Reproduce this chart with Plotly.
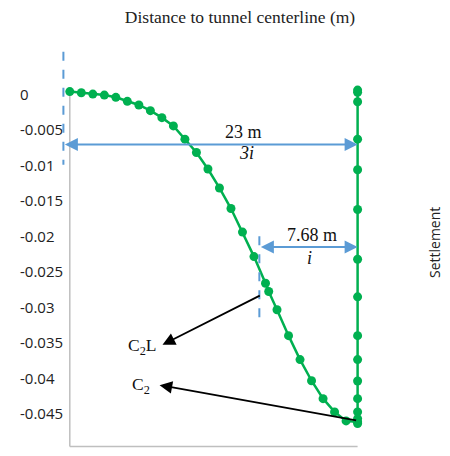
import plotly.graph_objects as go

# ---- data ----
curve_x = [-22.5, -21.6, -20.7, -19.8, -18.9, -18.0, -17.1, -16.2, -15.3, -14.4,
           -13.5, -12.6, -11.7, -10.8, -9.9, -9.0, -8.1, -7.2, -6.95, -6.3,
           -5.4, -4.5, -3.6, -2.7, -1.8, -0.9, 0.0]
curve_y = [0.0, -0.00017, -0.00035, -0.00049, -0.00081, -0.00137, -0.00189, -0.00269,
           -0.00367, -0.00484, -0.0067, -0.00858, -0.01091, -0.01358, -0.01648, -0.0198,
           -0.02325, -0.027, -0.02816, -0.03074, -0.03439, -0.03776, -0.04074, -0.04327,
           -0.04513, -0.0464, -0.04654]

center_x = [0.0] * 15
center_y = [0.00021, -0.00011, -0.00143, -0.0067, -0.01101, -0.01662, -0.02363,
            -0.02892, -0.03439, -0.03776, -0.04078, -0.04327, -0.04513, -0.04607, -0.04677]

y_tickvals = [0, -0.005, -0.01, -0.015, -0.02, -0.025, -0.03, -0.035, -0.04, -0.045, -0.05]
y_ticktext = ["0", "-0.005", "-0.01", "-0.015", "-0.02", "-0.025", "-0.03", "-0.035",
              "-0.04", "-0.045", "-0.05"]

width_3i = 23.0
width_i = 7.68
label_3i = "23 m"
label_i = "7.68 m"
c2l_tail = (-7.53, -0.02865)
c2l_head = (-15.25, -0.03567)
c2_tail = (0.0, -0.04635)
c2_head = (-15.48, -0.04136)
arrow_3i_y = -0.00744
arrow_i_y = -0.0219

GREEN = "#00B050"
BLUE = "#5B9BD5"
GRAY = "#BFBFBF"
SERIF = "Liberation Serif, Times New Roman, serif"
SANS = "Open Sans, sans-serif"

Y_RANGE = [-0.0505, 0.006]

fig = go.Figure()

fig.add_trace(go.Scatter(x=curve_x, y=curve_y, mode="lines+markers",
                         line=dict(color=GREEN, width=2.5),
                         marker=dict(color=GREEN, size=9),
                         cliponaxis=False, showlegend=False))
fig.add_trace(go.Scatter(x=center_x, y=center_y, mode="lines+markers",
                         line=dict(color=GREEN, width=2.5),
                         marker=dict(color=GREEN, size=9),
                         cliponaxis=False, showlegend=False))
fig.add_trace(go.Scatter(x=[None], y=[None], yaxis="y2", showlegend=False))

shapes = [
    # axis lines
    dict(type="line", xref="x", yref="y", x0=curve_x[0], x1=curve_x[0], y0=-0.05, y1=0,
         line=dict(color=GRAY, width=1.5), layer="below"),
    dict(type="line", xref="x", yref="y", x0=curve_x[0], x1=0, y0=-0.05, y1=-0.05,
         line=dict(color=GRAY, width=1.5), layer="below"),
    # dashed guide lines
    dict(type="line", xref="x", yref="y", x0=-width_3i, x1=-width_3i, y0=0.0056, y1=-0.0103,
         line=dict(color=BLUE, width=2, dash="dash")),
    dict(type="line", xref="x", yref="y", x0=-width_i, x1=-width_i, y0=-0.0204, y1=-0.0323,
         line=dict(color=BLUE, width=2, dash="dash")),
]

annotations = [
    # blue double arrows
    dict(x=0, y=arrow_3i_y, ax=-width_3i, ay=arrow_3i_y, xref="x", yref="y",
         axref="x", ayref="y", text="", showarrow=True, arrowside="end+start",
         arrowhead=2, startarrowhead=2, arrowsize=1.3, startarrowsize=1.3,
         arrowwidth=2, arrowcolor=BLUE, standoff=0, startstandoff=0),
    dict(x=0, y=arrow_i_y, ax=-width_i, ay=arrow_i_y, xref="x", yref="y",
         axref="x", ayref="y", text="", showarrow=True, arrowside="end+start",
         arrowhead=2, startarrowhead=2, arrowsize=1.3, startarrowsize=1.3,
         arrowwidth=2, arrowcolor=BLUE, standoff=0, startstandoff=0),
    dict(x=-8.9, y=arrow_3i_y, text=label_3i, showarrow=False,
         yanchor="bottom", yshift=0, font=dict(family=SERIF, size=18, color="#111")),
    dict(x=-8.7, y=arrow_3i_y, text="<i>3i</i>", showarrow=False,
         yanchor="top", yshift=3, font=dict(family=SERIF, size=18, color="#111")),
    dict(x=-3.6, y=arrow_i_y, text=label_i, showarrow=False,
         yanchor="bottom", yshift=0, font=dict(family=SERIF, size=18, color="#111")),
    dict(x=-3.75, y=arrow_i_y, text="<i>i</i>", showarrow=False,
         yanchor="top", yshift=1, font=dict(family=SERIF, size=18, color="#111")),
    # black arrows
    dict(x=c2l_head[0], y=c2l_head[1], ax=c2l_tail[0], ay=c2l_tail[1], xref="x", yref="y",
         axref="x", ayref="y", text="", showarrow=True, arrowhead=2, arrowsize=1.4,
         arrowwidth=1.8, arrowcolor="#000", standoff=0),
    dict(x=c2_head[0], y=c2_head[1], ax=c2_tail[0], ay=c2_tail[1], xref="x", yref="y",
         axref="x", ayref="y", text="", showarrow=True, arrowhead=2, arrowsize=1.4,
         arrowwidth=1.8, arrowcolor="#000", standoff=0),
    dict(x=c2l_head[0] - 0.3, y=c2l_head[1] - 0.0003, text="C<sub>2</sub>L", showarrow=False,
         xanchor="right", font=dict(family=SERIF, size=17.5, color="#111")),
    dict(x=c2_head[0] - 0.6, y=c2_head[1] - 0.0001, text="C<sub>2</sub>", showarrow=False,
         xanchor="right", font=dict(family=SERIF, size=17.5, color="#111")),
    # y axis title at the right edge
    dict(xref="paper", yref="paper", x=1.2377, y=0.5174, text="Settlement", textangle=-90,
         showarrow=False, font=dict(family=SANS, size=14, color="#222")),
]

fig.update_layout(
    width=442, height=448,
    margin=dict(l=11, r=86, t=41, b=6),
    paper_bgcolor="white", plot_bgcolor="white",
    title=dict(text="Distance to tunnel centerline (m)", xref="container", yref="container",
               x=232 / 442, y=1 - 9 / 448, xanchor="center", yanchor="middle",
               font=dict(family=SERIF, size=17.5, color="#222")),
    xaxis=dict(range=[-23.5, 0.5], domain=[38 / 345, 1], showticklabels=False,
               showgrid=False, zeroline=False, showline=False, ticks=""),
    yaxis=dict(range=Y_RANGE, showticklabels=False, showgrid=False,
               zeroline=False, showline=False, ticks=""),
    yaxis2=dict(range=Y_RANGE, overlaying="y", side="right", anchor="free",
                position=0, tickvals=y_tickvals, ticktext=y_ticktext, showgrid=False,
                zeroline=False, showline=False, ticks="", ticklabelshift=3,
                tickfont=dict(family=SANS, size=15, color="#222")),
    shapes=shapes,
    annotations=annotations,
)

fig.write_html("out.html")
